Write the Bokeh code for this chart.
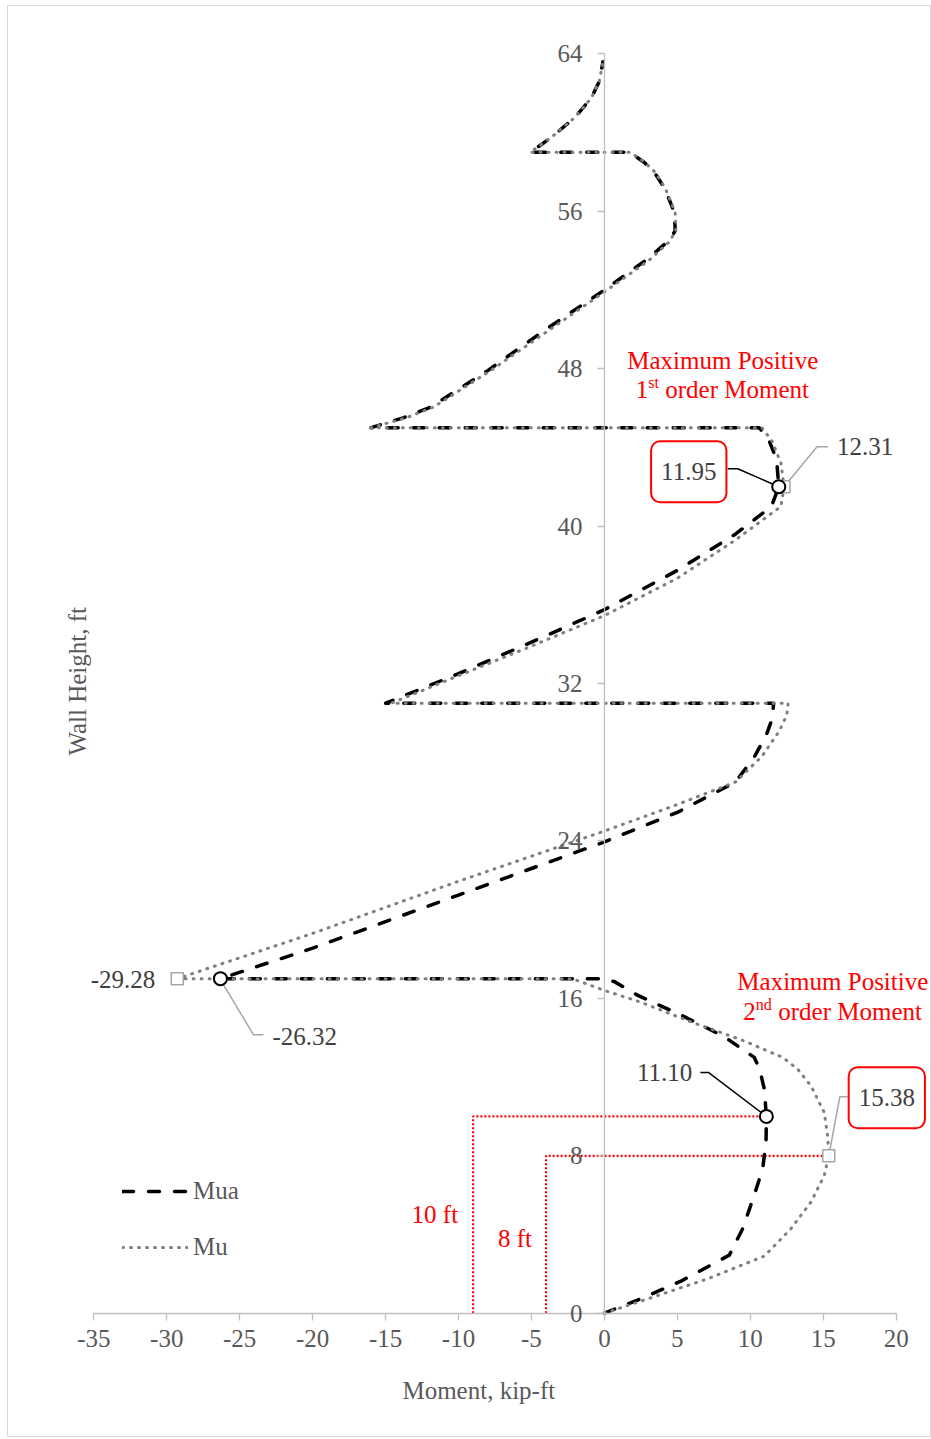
from bokeh.plotting import figure
from bokeh.models import Range1d, LinearAxis, FixedTicker, Label, Legend, LegendItem
from bokeh.embed import file_html
from bokeh.resources import INLINE

FONT = "Liberation Serif"

# ---------------- data ----------------
# Mua : first-order moment (kip-ft) along the wall height (ft)
mua_height = [0, 0.73, 1.63, 2.95, 4.3, 6.0, 7.35, 8.7, 10.0, 11.4, 12.45, 13.0, 14.05, 15.15,
              16.15, 16.85, 17.0, 17.0, 18.55, 21.25, 23.95, 25.45, 27.0, 28.3, 29.4, 30.2, 31.0,
              31.0, 32.5, 34.1, 35.75, 37.75, 39.6, 41.0, 42.0, 43.4, 44.5, 45.0,
              45.0, 45.5, 46.05, 47.9, 50.0, 52.0, 53.6, 54.5, 55.0, 55.9, 56.4, 57.2, 58.0, 58.5, 59.0,
              59.0, 59.4, 59.9, 60.75, 61.75, 62.6, 63.6]
mua_moment = [0, 2.5, 5.25, 8.56, 9.48, 10.27, 10.85, 11.08, 11.10, 10.96, 10.62, 10.27, 8.22, 5.25,
              2.29, 0.68, 0.0, -26.32, -20, -10, 0, 5, 9.0, 10.3, 11.1, 11.5, 11.6,
              -15.0, -10, -5, 0, 5, 9, 11.45, 11.95, 11.8, 11.2, 10.6,
              -16.0, -13.8, -11.9, -8, -4, 0, 3, 4.4, 4.85, 4.8, 4.55, 4.1, 3.4, 2.7, 1.7,
              -5.1, -4.3, -3.4, -2.05, -0.9, -0.35, -0.1]

# Mu : second-order moment (kip-ft) along the wall height (ft)
mu_height = [0, 0.9, 1.75, 2.9, 4.3, 5.65, 7.0, 8.0, 9.0, 10.2, 11.55, 12.4, 13.0, 13.9, 14.8,
             15.8, 16.4, 17.0, 17.0, 19.3, 21.95, 24.5, 25.85, 27.0, 28.3, 29.6, 30.4, 31.0,
             31.0, 32.4, 33.9, 35.45, 37.35, 39.3, 41.0, 42.0, 43.2, 44.3, 45.0,
             45.0, 45.5, 46.05, 47.9, 49.9, 51.9, 53.5, 54.45, 55.0, 55.9, 56.4, 57.2, 58.0, 58.5, 59.0,
             59.0, 59.4, 59.9, 60.75, 61.75, 62.6, 63.6]
mu_moment = [0, 3.66, 7.08, 10.96, 12.79, 14.16, 15.07, 15.38, 15.3, 15.07, 14.16, 13.25, 12.22, 9.36, 5.94,
             2.51, 0.0, -2.2, -29.28, -20, -10, 0, 5, 9.0, 10.8, 12.0, 12.5, 12.6,
             -14.6, -10, -5, 0, 5, 9, 12.1, 12.31, 12.1, 11.5, 10.8,
             -16.0, -13.6, -11.7, -7.8, -3.9, 0, 3.05, 4.45, 4.9, 4.85, 4.6, 4.15, 3.45, 2.75, 1.75,
             -5.1, -4.3, -3.4, -2.05, -0.9, -0.35, -0.1]

# labelled extreme points
mua_mark_moment = [11.95, -26.32, 11.10]
mua_mark_height = [42, 17, 10]
mu_mark_moment = [12.31, -29.28, 15.38]
mu_mark_height = [42, 17, 8]

# red guides (height of the 2nd-order maxima)
guide_base = [-9, -4]
guide_height = [10, 8]
guide_moment = [11.10, 15.38]
guide_text = ["10 ft", "8 ft"]

x_ticks = [-35, -30, -25, -20, -15, -10, -5, 0, 5, 10, 15, 20]
y_ticks = [0, 8, 16, 24, 32, 40, 48, 56, 64]

# ---------------- layout ----------------
W, H = 924, 1432
X_LO, X_HI = -35, 20          # axis extent (kip-ft)
Y_LO, Y_HI = 0, 64            # axis extent (ft)
AX_L, AX_R = 86.3, 888.7      # canvas px of the x-axis ends
AX_B, AX_T = 1307.7, 48.3     # canvas px of the y-axis ends
SX = (AX_R - AX_L) / (X_HI - X_LO)
SY = (AX_B - AX_T) / (Y_HI - Y_LO)
x_range = Range1d(X_LO - AX_L / SX, X_HI + (W - AX_R) / SX)
y_range = Range1d(Y_LO - (H - AX_B) / SY, Y_HI + AX_T / SY)

p = figure(width=W, height=H, x_range=x_range, y_range=y_range,
           output_backend="svg", toolbar_location=None,
           x_axis_location=None, y_axis_location=None,
           min_border_left=0, min_border_right=0, min_border_top=0, min_border_bottom=0,
           background_fill_color="white", border_fill_color="white",
           outline_line_color="#d9d9d9", outline_line_width=1,
           styles={"margin-left": "7px", "margin-top": "5px"})
p.xgrid.visible = False
p.ygrid.visible = False

axis_style = dict(axis_line_color="#bfbfbf", axis_line_width=1.3,
                  major_tick_line_color="#bfbfbf", major_tick_line_width=1.3,
                  major_tick_out=7, major_tick_in=0, minor_tick_out=0, minor_tick_in=0,
                  major_label_text_font=FONT, major_label_text_font_size="25px",
                  major_label_text_color="#595959")
xaxis = LinearAxis(ticker=FixedTicker(ticks=x_ticks), fixed_location=0, bounds=(X_LO, X_HI),
                   major_label_standoff=10,
                   major_label_overrides={t: str(t) for t in x_ticks}, **axis_style)
p.add_layout(xaxis, "below")
yaxis = LinearAxis(ticker=FixedTicker(ticks=y_ticks), fixed_location=0, bounds=(Y_LO, Y_HI),
                   major_label_standoff=15,
                   major_label_overrides={t: str(t) for t in y_ticks}, **axis_style)
p.add_layout(yaxis, "left")

# red guide lines
gx = [[b, b, m] for b, m in zip(guide_base, guide_moment)]
gy = [[0, h, h] for h in guide_height]
p.multi_line(gx, gy, line_color="#ff0000", line_width=2.2, line_dash="2 2")

# series
r_mua = p.line(mua_moment, mua_height, line_color="black", line_width=3.5,
               line_dash="11 15", line_cap="round", line_join="round")
r_mu = p.line(mu_moment, mu_height, line_color="#7f7f7f", line_width=3,
              line_dash="1 7", line_cap="round", line_join="round")

# leader lines (offsets in px from the labelled point)
def leader(x0, y0, offs):
    return [x0 + ox / SX for ox, oy in offs], [y0 + oy / SY for ox, oy in offs]

black_leaders = [leader(mua_mark_moment[0], mua_mark_height[0], [(-51, 18), (-41, 18), (0, 0)]),
                 leader(mua_mark_moment[2], mua_mark_height[2], [(-66, 44), (-58, 44), (0, 0)])]
gray_leaders = [leader(mu_mark_moment[0], mu_mark_height[0], [(0, 0), (33, 40), (44, 40)]),
                leader(mua_mark_moment[1], mua_mark_height[1], [(3, -6), (33, -56), (43, -56)]),
                leader(mu_mark_moment[2], mu_mark_height[2], [(0, 0), (11, 59), (19, 59)])]
p.multi_line([l[0] for l in black_leaders], [l[1] for l in black_leaders], line_color="black", line_width=1.5)
p.multi_line([l[0] for l in gray_leaders], [l[1] for l in gray_leaders], line_color="#a6a6a6", line_width=1.5)

# markers
p.scatter(mu_mark_moment, mu_mark_height, marker="square", size=12, fill_color="white",
          line_color="#a6a6a6", line_width=1.5)
p.scatter(mua_mark_moment, mua_mark_height, marker="circle", size=13, fill_color="white",
          line_color="black", line_width=2)

# labels
def lab(text, x, y, dx, dy, align="center", color="#404040", size="25px", **kw):
    p.add_layout(Label(text=text, x=x, y=y, x_offset=dx, y_offset=dy, text_align=align,
                       text_baseline="middle", text_font=FONT, text_font_size=size,
                       text_color=color, **kw))

box = dict(background_fill_color="white", border_line_color="#ff0000", border_line_width=2,
           border_radius=9, padding=dict(left=10, right=10, top=22, bottom=22))
lab(f"{mua_mark_moment[0]:.2f}", mua_mark_moment[0], mua_mark_height[0], -90, 15, **box)
lab(f"{mu_mark_moment[2]:.2f}", mu_mark_moment[2], mu_mark_height[2], 58, 58, **box)
lab(f"{mu_mark_moment[0]:.2f}", mu_mark_moment[0], mu_mark_height[0], 53, 40, align="left")
lab(f"{mu_mark_moment[1]:.2f}", mu_mark_moment[1], mu_mark_height[1], -22, -1, align="right")
lab(f"{mua_mark_moment[1]:.2f}", mua_mark_moment[1], mua_mark_height[1], 52, -58, align="left")
lab(f"{mua_mark_moment[2]:.2f}", mua_mark_moment[2], mua_mark_height[2], -74, 44, align="right")

# red guide labels
lab(guide_text[0], guide_base[0], 0, -15, 99, align="right", color="#ff0000")
lab(guide_text[1], guide_base[1], 0, -14, 75, align="right", color="#ff0000")

# red titles
RED = "#ff0000"
x1, y1 = mua_mark_moment[0], mua_mark_height[0]
lab("Maximum Positive", x1, y1, -56, 126, color=RED)
lab("1", x1, y1, -143, 97, align="left", color=RED)
lab("st", x1, y1, -130.5, 104, align="left", color=RED, size="16px")
lab("order Moment", x1, y1, -113.5, 97, align="left", color=RED)
x2, y2 = mu_mark_moment[2], mu_mark_height[2]
lab("Maximum Positive", x2, y2, 4, 174, color=RED)
lab("2", x2, y2, -85.5, 144, align="left", color=RED)
lab("nd", x2, y2, -73, 151, align="left", color=RED, size="16px")
lab("order Moment", x2, y2, -50.5, 144, align="left", color=RED)

# axis titles
lab("Moment, kip-ft", 0, 0, -125.6, -77.3, color="#595959")
lab("Wall Height, ft", X_LO, 32, -16.6, 2.2, color="#595959", angle=1.5707963)

# legend
legend = Legend(items=[LegendItem(label="Mua", renderers=[r_mua]),
                       LegendItem(label="Mu", renderers=[r_mu])],
                location=(115, 175), orientation="vertical", glyph_width=66, glyph_height=30,
                label_height=30, spacing=26, padding=0, margin=0, label_standoff=5,
                border_line_color=None, background_fill_alpha=0,
                label_text_font=FONT, label_text_font_size="25px", label_text_color="#595959")
p.add_layout(legend)

open("out.html", "w").write(file_html(p, INLINE))
